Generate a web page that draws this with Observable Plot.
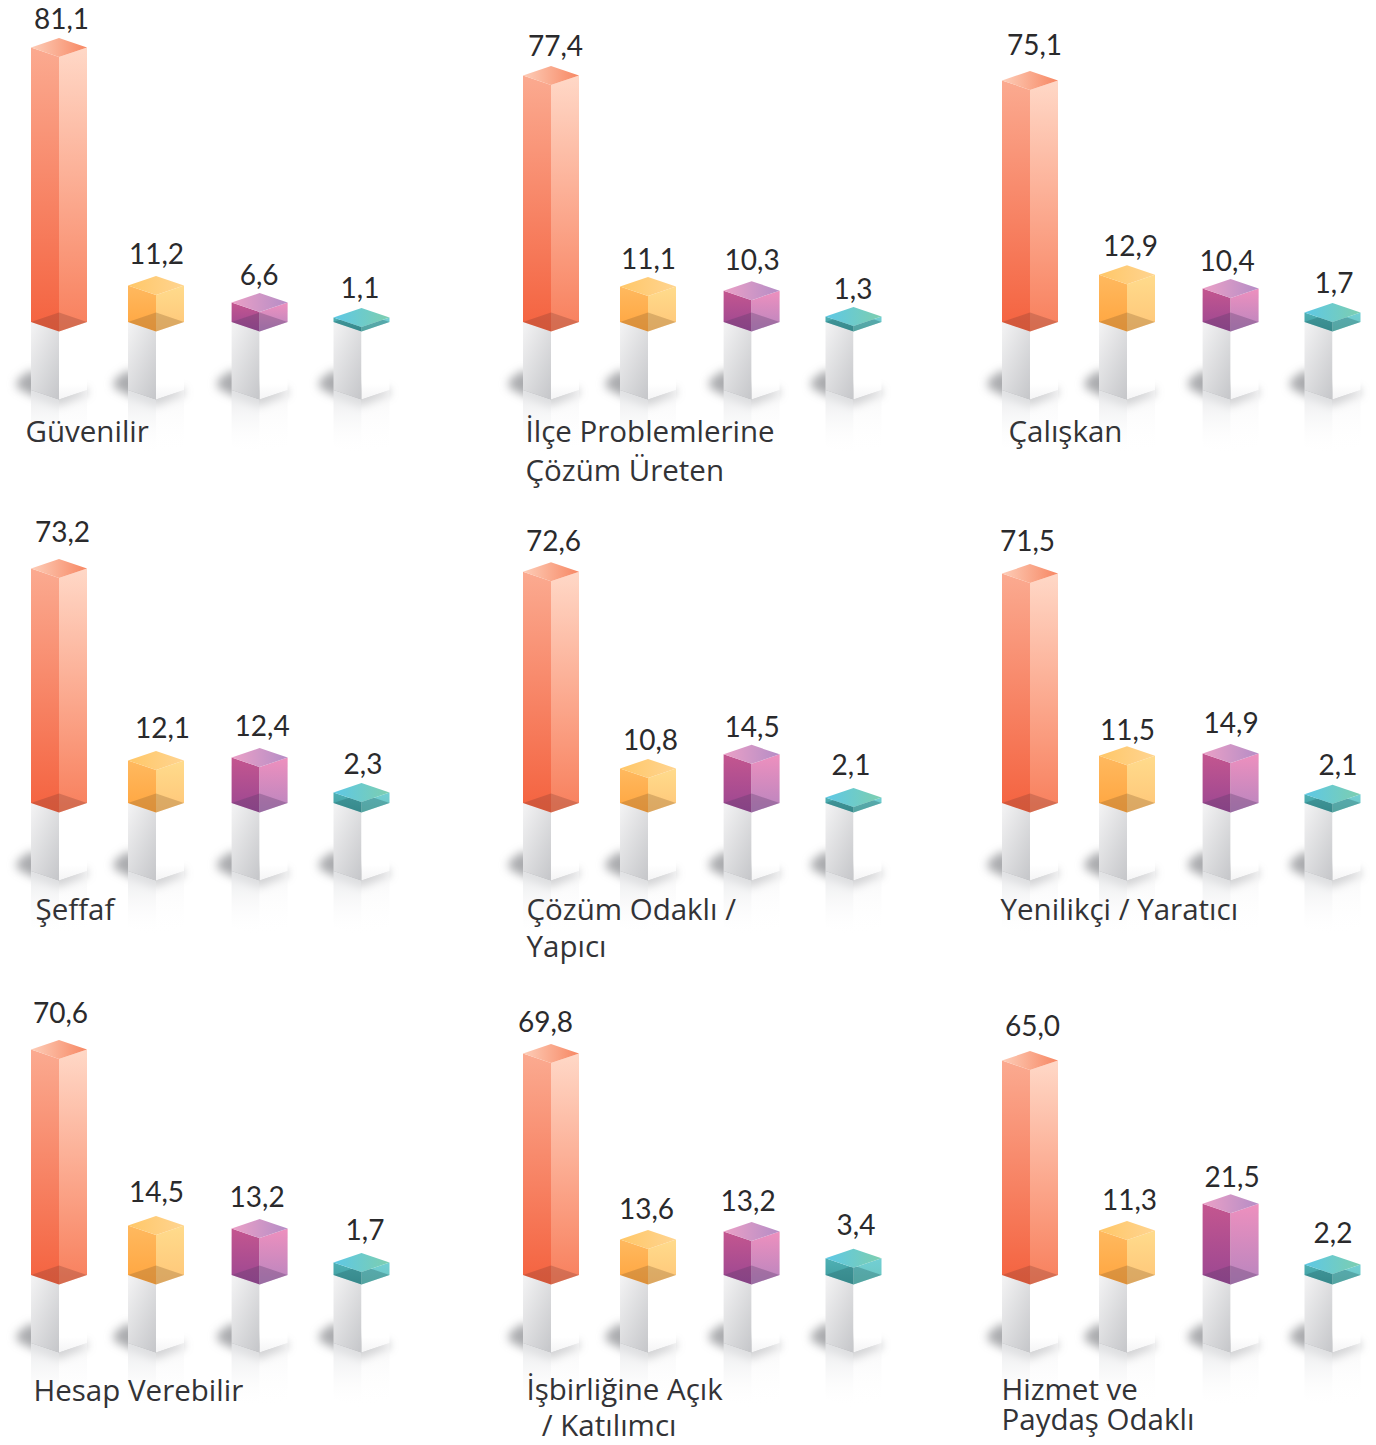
<!DOCTYPE html>
<html lang="tr">
<head>
<meta charset="utf-8">
<script src="https://cdn.jsdelivr.net/npm/d3@7"></script>
<script src="https://cdn.jsdelivr.net/npm/@observablehq/plot@0.6"></script>
<style>
  html, body { margin: 0; padding: 0; background: #fff; }
  #chart { position: relative; width: 1376px; height: 1445px; overflow: hidden; }
</style>
</head>
<body>
<div id="chart"></div>
<script>
// ---- data ----
const categories = [
  ["Güvenilir"], ["İlçe Problemlerine", "Çözüm Üreten"], ["Çalışkan"],
  ["Şeffaf"], ["Çözüm Odaklı /", "Yapıcı"], ["Yenilikçi / Yaratıcı"],
  ["Hesap Verebilir"], ["İşbirliğine Açık", "\u00a0\u00a0/ Katılımcı"], ["Hizmet ve", "Paydaş Odaklı"]
];
// printed values
const coralValues   = [81.1, 77.4, 75.1, 73.2, 72.6, 71.5, 70.6, 69.8, 65.0];
const amberValues   = [11.2, 11.1, 12.9, 12.1, 10.8, 11.5, 14.5, 13.6, 11.3];
const magentaValues = [6.6, 10.3, 10.4, 12.4, 14.5, 14.9, 13.2, 13.2, 21.5];
const tealValues    = [1.1, 1.3, 1.7, 2.3, 2.1, 2.1, 1.7, 3.4, 2.2];
// bar lengths as actually drawn in the reference, same units (they depart a little from the printed values)
const coralDrawn   = [85.8, 77.0, 75.5, 73.3, 72.3, 71.7, 70.5, 69.2, 67.0];
const amberDrawn   = [11.4, 11.1, 14.8, 13.3, 10.8, 14.8, 15.5, 11.1, 13.9];
const magentaDrawn = [6.1, 9.8, 10.5, 14.2, 15.2, 15.5, 14.5, 13.6, 22.3];
const tealDrawn    = [1.4, 1.7, 3.0, 3.3, 1.7, 2.7, 3.9, 5.2, 3.3];

// ---- layout ----
const pxPerUnit = 3.2;
const colLeft = [0, 492, 971], colWidth = [492, 479, 405];
const rowTop = [0, 490, 965], rowHeight = [490, 475, 480];
const rowBase = [322, 313, 310];                 // baseline of each row inside its panel
const slotLeft = [31, 128, 231.6, 333.5];        // left edge of each bar inside a panel
const halfWidth = 28, slantPx = 9.5, pedestalPx = 68, reflectPx = 56;
const labelDx = [[2,0,-1,-2],[4,0,0,-1],[4,3,-4,1],[3,6,2,1],[2,2,0,-3],[-3,0,0,5],[1,0,-3,3],[-6,-2,-4,2],[2,2,1,0]];
const labelRise = [[18,21,17,19],[20,17,21,18],[25,19,17,19],[26,22,22,18],[21,18,17,23],[23,16,20,19],[26,23,22,22],[22,20,20,23],[25,20,17,21]];
const catX = [25, 33, 37, 35, 34, 29, 33, 34, 30];
const catDrop = [110, 110, 110, 107, 107, 107, 116, 115, 115];
const catLineGap = [0, 39, 0, 0, 37, 0, 0, 36.5, 30];

const seriesList = [
  {key: "coral", values: coralValues, drawn: coralDrawn, inner: "#7a3a30", innerOpacity: 0.28},
  {key: "amber", values: amberValues, drawn: amberDrawn, inner: "#8a6030", innerOpacity: 0.3},
  {key: "magenta", values: magentaValues, drawn: magentaDrawn, inner: "#5a3a6a", innerOpacity: 0.32},
  {key: "teal", values: tealValues, drawn: tealDrawn, inner: "#2a6a6c", innerOpacity: 0.36}
];
const fmt = v => v.toFixed(1).replace(".", ",");
const s = pxPerUnit, d = slantPx / s, ped = pedestalPx / s, ref = reflectPx / s;

const gradientDefs = () => {
  const grad = (id, dir, stops) => `<linearGradient id="${id}" ${dir === "h" ? 'x1="0" x2="1" y1="0" y2="0"' : dir === "d" ? 'x1="0.1" x2="0.9" y1="0" y2="1"' : 'x1="0" x2="0" y1="0" y2="1"'}>` +
    stops.map(([o, c, a]) => `<stop offset="${o}" stop-color="${c}" stop-opacity="${a ?? 1}"/>`).join("") + `</linearGradient>`;
  const g = document.createElementNS("http://www.w3.org/2000/svg", "defs");
  g.innerHTML = [
    grad("coral-left", "v", [[0, "#FBAA90"], [1, "#F4623F"]]),
    grad("coral-right", "v", [[0, "#FFD8C7"], [1, "#F87F5C"]]),
    grad("coral-top", "h", [[0, "#FDCDB8"], [1, "#F78763"]]),
    grad("amber-left", "v", [[0, "#FFB95F"], [1, "#FFA53F"]]),
    grad("amber-right", "v", [[0, "#FFDB8C"], [1, "#FFC678"]]),
    grad("amber-top", "h", [[0, "#FFC768"], [1, "#FFD490"]]),
    grad("magenta-left", "v", [[0, "#C4568F"], [1, "#9A4792"]]),
    grad("magenta-right", "v", [[0, "#EE90BE"], [1, "#B885BF"]]),
    grad("magenta-top", "h", [[0, "#EBA0C6"], [1, "#B58DC6"]]),
    grad("teal-left", "v", [[0, "#4FB1B5"], [1, "#3E9A9C"]]),
    grad("teal-right", "v", [[0, "#72CFD5"], [1, "#6CC6BE"]]),
    grad("teal-top", "h", [[0, "#5DC8E6"], [1, "#7DCEAF"]]),
    grad("ped-left", "d", [[0, "#F2F2F3"], [1, "#C7C8CB"]]),
    grad("ped-right", "v", [[0, "#FFFFFF"], [0.8, "#FFFFFF"], [1, "#F4F4F5"]]),
    grad("reflect-left", "v", [[0, "#E6E7E9", 0.9], [1, "#FFFFFF", 0]]),
    grad("reflect-right", "v", [[0, "#F3F3F4", 0.6], [1, "#FFFFFF", 0]])
  ].join("");
  return g;
};

const chart = document.getElementById("chart");

categories.forEach((lines, p) => {
  const col = p % 3, row = Math.floor(p / 3);
  const width = colWidth[col], height = rowHeight[row], base = rowBase[row];

  // one polygon per bar and face; y in value units, x in the panel's horizontal scale
  const poly = (bar, pts) => pts.map(([x, y1, y2]) => ({bar, x, y1, y2}));
  const marks = [];
  if (p === 0) marks.push(gradientDefs);

  const bars = seriesList.map((S, i) => {
    const L = slotLeft[i], C = L + halfWidth, R = C + halfWidth;
    return {...S, i, L, C, R, h: S.drawn[p], value: S.values[p]};
  });

  const channels = {x1: "x", y1: "y1", y2: "y2", z: "bar"};

  // ground shadow, reflection and pedestal
  const faces = (fn) => bars.flatMap((b) => poly(b.i, fn(b)));
  marks.push(Plot.area(faces((b) => [
    [b.L - 14, -ped + 2 / s, -ped + 10 / s],
    [b.L, -ped - 5 / s, -ped + 20 / s],
    [b.C, -ped - d - 6 / s, -ped - d + 14 / s],
    [b.R, -ped - 4 / s, -ped]
  ]), {...channels, fill: "#55585e", fillOpacity: 0.5, imageFilter: "blur(5px)"}));
  marks.push(Plot.area(faces((b) => [[b.L, -ped - ref, -ped], [b.C, -ped - d - ref, -ped - d]]),
    {...channels, fill: "url(#reflect-left)"}));
  marks.push(Plot.area(faces((b) => [[b.C, -ped - d - ref, -ped - d], [b.R, -ped - ref, -ped]]),
    {...channels, fill: "url(#reflect-right)"}));
  marks.push(Plot.area(faces((b) => [[b.L, -ped, 0], [b.C, -ped - d, -d]]),
    {...channels, fill: "url(#ped-left)"}));
  marks.push(Plot.area(faces((b) => [[b.C, -ped - d, -d], [b.R, -ped, 0]]),
    {...channels, fill: "url(#ped-right)"}));

  // the four glass bars
  bars.forEach((b) => {
    const one = (pts) => poly(b.i, pts);
    const area = (data, fill, extra = {}) => Plot.area(data, {...channels, fill, ...extra});
    marks.push(area(one([[b.L, 0, b.h], [b.C, -d, b.h - d]]), `url(#${b.key}-left)`));
    marks.push(area(one([[b.C, -d, b.h - d], [b.R, 0, b.h]]), `url(#${b.key}-right)`));
    marks.push(area(one([[b.L, 0, 0], [b.C, -d, d], [b.R, 0, 0]]), b.inner, {fillOpacity: b.innerOpacity}));
    marks.push(area(one([[b.L, b.h, b.h], [b.C, b.h - d, b.h + d], [b.R, b.h, b.h]]), `url(#${b.key}-top)`));
  });

  // value labels above each bar
  marks.push(Plot.text(bars, {
    x: (b) => b.C + labelDx[p][b.i],
    y: (b) => b.h + d + labelRise[p][b.i] / s,
    text: (b) => fmt(b.value),
    textAnchor: "middle", lineAnchor: "middle",
    fontSize: 28, fill: "#2a2a2c", fontFamily: "Lato"
  }));

  // category label under the panel, one row per line
  marks.push(Plot.text(lines, {
    x: () => catX[p],
    y: (_, j) => -(catDrop[p] + j * catLineGap[p]) / s,
    text: (c) => c,
    textAnchor: "start", lineAnchor: "middle",
    fontSize: 29.5, fill: "#333336", fontFamily: "Open Sans"
  }));

  const svg = Plot.plot({
    width, height,
    marginTop: 0, marginRight: 0, marginBottom: 0, marginLeft: 0,
    x: {domain: [0, width], range: [0, width], axis: null},
    y: {domain: [(base - height) / s, base / s], range: [height, 0], axis: null},
    style: {
      position: "absolute", left: colLeft[col] + "px", top: rowTop[row] + "px",
      background: "none", overflow: "visible"
    },
    marks
  });
  chart.appendChild(svg);
});
</script>
</body>
</html>
